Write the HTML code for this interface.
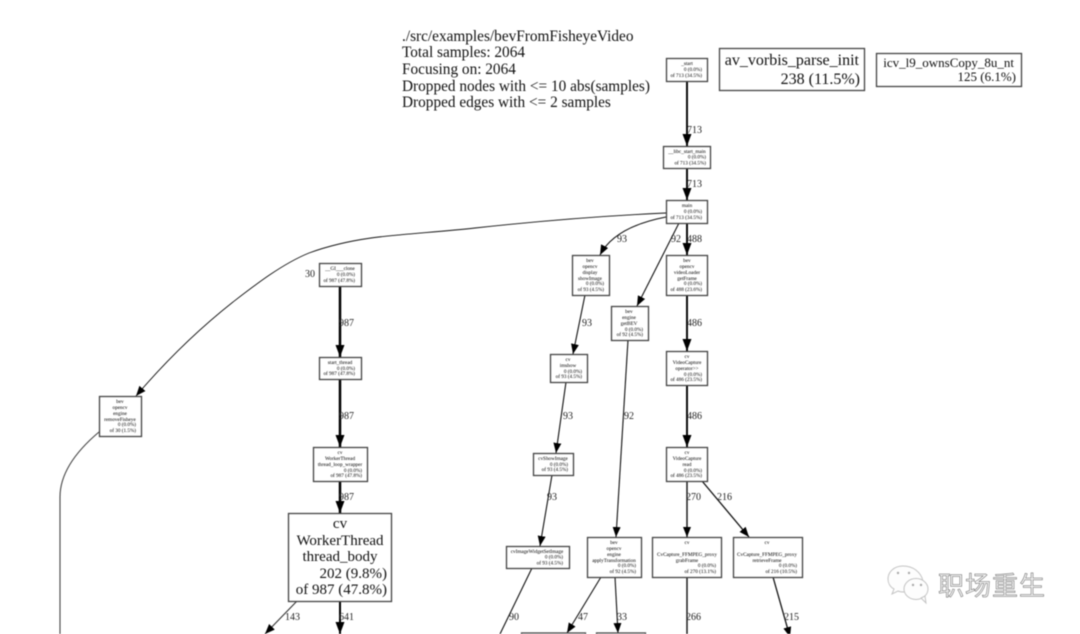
<!DOCTYPE html>
<html lang="en">
<head>
<meta charset="utf-8">
<title>bevFromFisheyeVideo profile graph</title>
<style>
html,body{margin:0;padding:0;background:#fff}
body{width:1080px;height:634px;overflow:hidden}
svg{display:block;filter:blur(.45px)}
text{font-family:"Liberation Serif","Noto Serif CJK SC",serif;fill:#111}
.n rect{fill:#fff;stroke:#444;stroke-width:1.3}
.s text{font-size:5.2px;fill:#000}
.c{text-anchor:middle}
.r{text-anchor:end}
.l{font-size:10px;fill:#222}
.e{fill:none;stroke:#111;stroke-width:1.1}
.e2{fill:none;stroke:#000;stroke-width:1.9}
.e3{fill:none;stroke:#000;stroke-width:2.5}
.hd{font-size:15.3px}
.wm{font-family:"Liberation Sans","Noto Sans CJK SC",sans-serif;font-size:26px;fill:#f2f2f2;stroke:#666;stroke-width:.5px;letter-spacing:1px}
</style>
</head>
<body>
<svg width="1080" height="634" viewBox="0 0 1080 634" xmlns="http://www.w3.org/2000/svg">
<defs>
<marker id="a" markerUnits="userSpaceOnUse" markerWidth="12" markerHeight="9" refX="10" refY="4" orient="auto"><path d="M0,0L10,4L0,8z" fill="#000"/></marker>
<marker id="b" markerUnits="userSpaceOnUse" markerWidth="14" markerHeight="10" refX="12" refY="4.5" orient="auto"><path d="M0,0L12,4.5L0,9z" fill="#000"/></marker>
</defs>

<!-- header -->
<g>
<text class="hd" x="402" y="41">./src/examples/bevFromFisheyeVideo</text>
<text class="hd" x="402" y="57">Total samples: 2064</text>
<text class="hd" x="402" y="74">Focusing on: 2064</text>
<text class="hd" x="402" y="91">Dropped nodes with &lt;= 10 abs(samples)</text>
<text class="hd" x="402" y="107">Dropped edges with &lt;= 2 samples</text>
</g>

<!-- edges -->
<path class="e2" marker-end="url(#b)" d="M687,81V146"/>
<path class="e2" marker-end="url(#b)" d="M687,168V200"/>
<path class="e2" marker-end="url(#b)" d="M687,223V255"/>
<path class="e2" marker-end="url(#b)" d="M687,295V351"/>
<path class="e2" marker-end="url(#b)" d="M687,385V447"/>
<path class="e" marker-end="url(#a)" d="M687,481V537" style="stroke-width:1.4"/>
<path class="e" marker-end="url(#a)" d="M702,481L749,537" style="stroke-width:1.3"/>
<path class="e" d="M687,577V634" style="stroke-width:1.4"/>
<path class="e" marker-end="url(#a)" d="M773,577L790,637" style="stroke-width:1.3"/>
<path class="e" marker-end="url(#a)" d="M666,217C640,222 612,232 600,255"/>
<path class="e" marker-end="url(#a)" d="M679,223L637,306"/>
<path class="e" marker-end="url(#a)" d="M585,295L573,354"/>
<path class="e" marker-end="url(#a)" d="M628,340L616,537"/>
<path class="e" marker-end="url(#a)" d="M566,382L556,453"/>
<path class="e" marker-end="url(#a)" d="M552,475L540,546"/>
<path class="e" d="M532,568L500,634"/>
<path class="e" marker-end="url(#a)" d="M601,577L567,633"/>
<path class="e" marker-end="url(#a)" d="M615,577L618,633"/>
<path class="e" marker-end="url(#a)" d="M666,213C600,216 530,222 475,228C440,232 400,234 371,238C350,241 328,246 309,253C282,264 255,285 233,302C195,332 165,362 136,396" style="stroke-width:.9"/>
<path class="e" d="M99,432C80,448 60,470 60,497V634" style="stroke:#444;stroke-width:1.1"/>
<path class="e3" marker-end="url(#b)" d="M340,286V357"/>
<path class="e3" marker-end="url(#b)" d="M340,379V447"/>
<path class="e3" marker-end="url(#b)" d="M340,481V513"/>
<path class="e" marker-end="url(#a)" d="M297,601L265,634" style="stroke:#333"/>
<path class="e3" marker-end="url(#b)" d="M340,601V634" style="stroke-width:2"/>

<!-- edge labels -->
<g>
<text class="l" x="687" y="133">713</text>
<text class="l" x="687" y="187">713</text>
<text class="l" x="617" y="242">93</text>
<text class="l" x="671" y="242">92</text>
<text class="l" x="687" y="242">488</text>
<text class="l" x="582" y="326">93</text>
<text class="l" x="687" y="326">486</text>
<text class="l" x="624" y="419">92</text>
<text class="l" x="687" y="419">486</text>
<text class="l" x="563" y="419">93</text>
<text class="l" x="547" y="500">93</text>
<text class="l" x="686" y="500">270</text>
<text class="l" x="717" y="500">216</text>
<text class="l" x="509" y="620">90</text>
<text class="l" x="578" y="620">47</text>
<text class="l" x="617" y="620">33</text>
<text class="l" x="686" y="620">266</text>
<text class="l" x="784" y="620">215</text>
<text class="l" x="339" y="326">987</text>
<text class="l" x="339" y="419">987</text>
<text class="l" x="339" y="500">987</text>
<text class="l" x="285" y="620">143</text>
<text class="l" x="339" y="620">641</text>
<text class="l" x="305" y="277">30</text>
</g>

<!-- small nodes -->
<g class="n s">
<rect x="666.5" y="58.5" width="41" height="23"/>
<text class="c" x="687" y="65">_start</text><text class="r" x="702" y="71">0 (0.0%)</text><text class="r" x="702" y="77">of 713 (34.5%)</text>

<rect x="663.5" y="146.5" width="47" height="22"/>
<text class="c" x="687" y="153">__libc_start_main</text><text class="r" x="706" y="158.500">0 (0.0%)</text><text class="r" x="706" y="164.500">of 713 (34.5%)</text>

<rect x="666.5" y="200.500" width="41" height="23"/>
<text class="c" x="687" y="207">main</text><text class="r" x="702" y="213">0 (0.0%)</text><text class="r" x="702" y="219">of 713 (34.5%)</text>

<rect x="572.5" y="255.500" width="37" height="40"/>
<text class="c" x="590" y="262">bev</text><text class="c" x="590" y="268">opencv</text><text class="c" x="590" y="274">display</text><text class="c" x="590" y="280">showImage</text><text class="r" x="604" y="285">0 (0.0%)</text><text class="r" x="604" y="291">of 93 (4.5%)</text>

<rect x="611.500" y="306.500" width="37" height="34"/>
<text class="c" x="629" y="313">bev</text><text class="c" x="629" y="319">engine</text><text class="c" x="629" y="325">getBEV</text><text class="r" x="643" y="331">0 (0.0%)</text><text class="r" x="643" y="336">of 92 (4.5%)</text>

<rect x="666.500" y="255.500" width="41" height="40"/>
<text class="c" x="687" y="262">bev</text><text class="c" x="687" y="268">opencv</text><text class="c" x="687" y="274">videoLoader</text><text class="c" x="687" y="280">getFrame</text><text class="r" x="702" y="285">0 (0.0%)</text><text class="r" x="702" y="291">of 488 (23.6%)</text>

<rect x="666.500" y="351.500" width="41" height="34"/>
<text class="c" x="687" y="358">cv</text><text class="c" x="687" y="364">VideoCapture</text><text class="c" x="687" y="370">operator&gt;&gt;</text><text class="r" x="702" y="376">0 (0.0%)</text><text class="r" x="702" y="381">of 486 (23.5%)</text>

<rect x="550.500" y="354.500" width="37" height="28"/>
<text class="c" x="568" y="361">cv</text><text class="c" x="568" y="367">imshow</text><text class="r" x="582" y="373">0 (0.0%)</text><text class="r" x="582" y="378">of 93 (4.5%)</text>

<rect x="533.500" y="453.500" width="40" height="22"/>
<text class="c" x="553" y="460">cvShowImage</text><text class="r" x="568" y="466">0 (0.0%)</text><text class="r" x="568" y="471">of 93 (4.5%)</text>

<rect x="666.500" y="447.500" width="41" height="34"/>
<text class="c" x="687" y="454">cv</text><text class="c" x="687" y="460">VideoCapture</text><text class="c" x="687" y="466">read</text><text class="r" x="702" y="472">0 (0.0%)</text><text class="r" x="702" y="477">of 486 (23.5%)</text>

<rect x="506.500" y="546.500" width="63" height="22"/>
<text class="c" x="537" y="553">cvImageWidgetSetImage</text><text class="r" x="563" y="558.500">0 (0.0%)</text><text class="r" x="563" y="564.500">of 93 (4.5%)</text>

<rect x="587.500" y="537.500" width="54" height="40"/>
<text class="c" x="614" y="544">bev</text><text class="c" x="614" y="550">opencv</text><text class="c" x="614" y="556">engine</text><text class="c" x="614" y="562">applyTransformation</text><text class="r" x="636" y="567">0 (0.0%)</text><text class="r" x="636" y="573">of 92 (4.5%)</text>

<rect x="652.500" y="537.500" width="69" height="40"/>
<text class="c" x="687" y="544">cv</text><text class="c" x="687" y="556">CvCapture_FFMPEG_proxy</text><text class="c" x="687" y="562">grabFrame</text><text class="r" x="716" y="567">0 (0.0%)</text><text class="r" x="716" y="573">of 270 (13.1%)</text>

<rect x="733.500" y="537.500" width="69" height="40"/>
<text class="c" x="767" y="544">cv</text><text class="c" x="767" y="556">CvCapture_FFMPEG_proxy</text><text class="c" x="767" y="562">retrieveFrame</text><text class="r" x="797" y="567">0 (0.0%)</text><text class="r" x="797" y="573">of 216 (10.5%)</text>

<rect x="319.500" y="263.500" width="42" height="23"/>
<text class="c" x="340" y="270">__GI___clone</text><text class="r" x="355" y="276">0 (0.0%)</text><text class="r" x="355" y="282">of 987 (47.8%)</text>

<rect x="319.500" y="357.500" width="42" height="22"/>
<text class="c" x="340" y="364">start_thread</text><text class="r" x="355" y="370">0 (0.0%)</text><text class="r" x="355" y="375">of 987 (47.8%)</text>

<rect x="313.500" y="447.500" width="54" height="34"/>
<text class="c" x="340" y="454">cv</text><text class="c" x="340" y="460">WorkerThread</text><text class="c" x="340" y="466">thread_loop_wrapper</text><text class="r" x="362" y="472">0 (0.0%)</text><text class="r" x="362" y="477">of 987 (47.8%)</text>

<rect x="99.500" y="396.500" width="42" height="40"/>
<text class="c" x="120" y="403">bev</text><text class="c" x="120" y="409">opencv</text><text class="c" x="120" y="415">engine</text><text class="c" x="120" y="421">removeFisheye</text><text class="r" x="136" y="426">0 (0.0%)</text><text class="r" x="136" y="432">of 30 (1.5%)</text>

<rect x="521.500" y="633" width="64" height="10"/>
<rect x="596.500" y="633" width="49" height="10"/>
</g>

<!-- big nodes -->
<g class="n">
<rect x="288.500" y="513.500" width="103" height="88"/>
<text class="c" x="340" y="528" style="font-size:15px">cv</text>
<text class="c" x="340" y="545" style="font-size:15px">WorkerThread</text>
<text class="c" x="340" y="561" style="font-size:15px">thread_body</text>
<text class="r" x="387" y="578" style="font-size:15px">202 (9.8%)</text>
<text class="r" x="387" y="594" style="font-size:15px">of 987 (47.8%)</text>
<rect x="719.500" y="48.500" width="145" height="42"/>
<text class="r" x="859" y="65" style="font-size:16px">av_vorbis_parse_init</text>
<text class="r" x="860" y="84" style="font-size:16px">238 (11.5%)</text>
<rect x="876.500" y="53.500" width="145" height="33"/>
<text class="r" x="1014" y="67" style="font-size:13px">icv_l9_ownsCopy_8u_nt</text>
<text class="r" x="1016" y="81" style="font-size:13px">125 (6.1%)</text>
</g>

<!-- watermark -->
<g fill="#fdfdfd" stroke="#c4c4c4" stroke-width="1">
<path d="M903,566c-9,0-15,6-15,13c0,4 2,8 6,10l-2,5l6,-3c2,1 4,1 6,1c3,0 6,-2 9,-4c2,-4 6,-6 10,-7c-2,-9-10,-15-20,-15z"/>
<ellipse cx="916" cy="589" rx="12" ry="10.500"/>
<path d="M921,598l5,5l-1,-7z"/>
</g>
<g fill="#aaa">
<circle cx="898" cy="573" r="1.200"/><circle cx="909" cy="573" r="1.200"/>
<circle cx="913" cy="585" r="1.200"/><circle cx="921" cy="585" r="1.200"/>
</g>
<text class="wm" x="938" y="595">职场重生</text>
</svg>
</body>
</html>
